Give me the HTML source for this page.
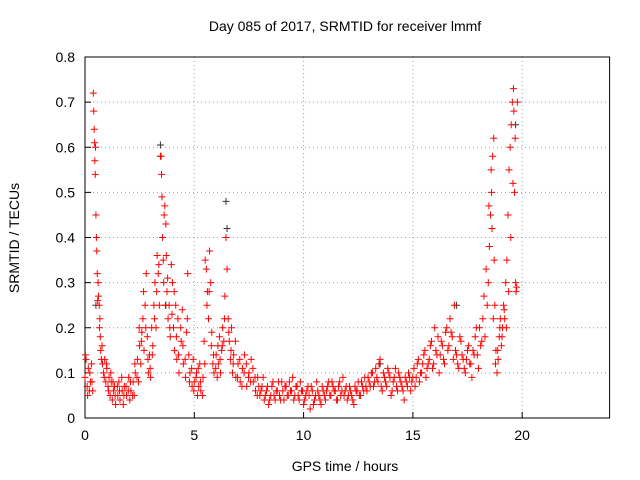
<!DOCTYPE html>
<html><head><meta charset="utf-8"><style>
body{margin:0;background:#fff}
svg{display:block;font-family:"Liberation Sans",sans-serif}
</style></head><body>
<svg id="chart" width="640" height="480" viewBox="0 0 640 480">
<text x="345" y="31" font-size="14" text-anchor="middle">Day 085 of 2017, SRMTID for receiver lmmf</text>
<text x="345" y="471" font-size="14" text-anchor="middle">GPS time / hours</text>
<text transform="translate(19,238) rotate(-90)" font-size="14" text-anchor="middle">SRMTID / TECUs</text>
<g id="grid"></g>
<g id="axes"></g>
<g id="marks"></g>
</svg>
<script>
const xTicks=[0,5,10,15,20];
const yTicks=[0,0.1,0.2,0.3,0.4,0.5,0.6,0.7,0.8];
const yTickLabels=["0","0.1","0.2","0.3","0.4","0.5","0.6","0.7","0.8"];
const redTimes=[0.0,0.05,0.1,0.15,0.2,0.25,0.3,0.35,0.38,0.4,0.42,0.44,0.45,0.47,0.5,0.52,0.54,0.56,0.6,0.62,0.65,0.68,0.7,0.72,0.75,0.8,0.85,0.9,0.95,1.0,1.05,1.1,1.15,1.2,1.25,1.3,1.35,1.4,1.5,1.55,1.6,1.7,1.75,1.8,1.9,2.0,2.05,2.1,2.2,2.25,2.3,2.4,2.45,2.5,2.55,2.6,2.65,2.7,2.75,2.8,2.85,2.9,2.95,3.0,3.05,3.1,3.15,3.2,3.25,3.3,3.35,3.4,3.45,3.48,3.5,3.52,3.55,3.6,3.62,3.65,3.7,3.72,3.75,3.8,3.85,3.9,3.95,4.0,4.05,4.1,4.15,4.2,4.25,4.3,4.4,4.45,4.5,4.6,4.65,4.7,4.75,4.8,4.9,4.95,5.0,5.1,5.15,5.2,5.25,5.3,5.4,5.45,5.5,5.55,5.6,5.65,5.7,5.75,5.8,5.85,5.9,6.0,6.05,6.1,6.15,6.2,6.25,6.3,6.35,6.4,6.45,6.5,6.55,6.6,6.65,6.7,6.75,6.8,6.9,7.0,7.1,7.2,7.3,7.4,7.5,7.6,7.7,7.8,7.9,8.0,8.1,8.2,8.3,8.4,8.5,8.6,8.7,8.8,8.9,9.0,9.1,9.2,9.3,9.4,9.5,9.6,9.7,9.8,9.9,10.0,10.1,10.2,10.3,10.4,10.5,10.6,10.7,10.8,10.9,11.0,11.1,11.2,11.3,11.4,11.5,11.6,11.7,11.8,11.9,12.0,12.1,12.2,12.3,12.4,12.5,12.6,12.7,12.8,12.9,13.0,13.1,13.2,13.3,13.4,13.5,13.6,13.7,13.8,13.9,14.0,14.1,14.2,14.3,14.4,14.5,14.6,14.7,14.8,14.9,15.0,15.1,15.2,15.3,15.4,15.5,15.6,15.7,15.8,15.9,16.0,16.1,16.2,16.3,16.4,16.5,16.6,16.7,16.8,16.9,17.0,17.1,17.2,17.3,17.4,17.5,17.6,17.7,17.8,17.9,18.0,18.1,18.2,18.3,18.4,18.45,18.5,18.55,18.6,18.62,18.65,18.7,18.72,18.75,18.8,18.85,18.9,18.95,19.0,19.05,19.1,19.15,19.2,19.25,19.3,19.35,19.4,19.45,19.5,19.55,19.6,19.62,19.65,19.7,19.72,19.75];
const redValues=[0.09,0.13,0.07,0.11,0.06,0.08,0.12,0.06,0.72,0.68,0.64,0.61,0.57,0.54,0.45,0.40,0.37,0.32,0.30,0.27,0.25,0.22,0.18,0.15,0.13,0.12,0.10,0.13,0.08,0.11,0.07,0.09,0.05,0.08,0.04,0.06,0.07,0.03,0.05,0.08,0.04,0.06,0.03,0.07,0.05,0.09,0.04,0.06,0.08,0.05,0.10,0.13,0.08,0.16,0.12,0.19,0.22,0.15,0.25,0.32,0.18,0.10,0.14,0.09,0.20,0.16,0.25,0.30,0.20,0.36,0.32,0.25,0.58,0.58,0.54,0.49,0.40,0.30,0.45,0.47,0.43,0.36,0.28,0.22,0.25,0.18,0.34,0.30,0.20,0.15,0.25,0.13,0.22,0.10,0.17,0.24,0.12,0.09,0.19,0.32,0.14,0.10,0.07,0.13,0.08,0.10,0.05,0.07,0.12,0.06,0.09,0.17,0.35,0.33,0.28,0.22,0.37,0.30,0.19,0.12,0.10,0.14,0.09,0.12,0.18,0.10,0.15,0.20,0.17,0.27,0.40,0.33,0.22,0.17,0.13,0.20,0.10,0.14,0.09,0.12,0.08,0.11,0.14,0.07,0.10,0.13,0.08,0.06,0.09,0.05,0.07,0.04,0.06,0.03,0.05,0.08,0.04,0.06,0.05,0.08,0.04,0.07,0.05,0.06,0.09,0.05,0.07,0.04,0.06,0.03,0.05,0.07,0.02,0.06,0.04,0.08,0.05,0.03,0.06,0.04,0.07,0.05,0.08,0.06,0.04,0.07,0.05,0.09,0.06,0.04,0.07,0.05,0.03,0.06,0.08,0.05,0.07,0.09,0.06,0.08,0.10,0.07,0.11,0.08,0.13,0.06,0.09,0.07,0.10,0.05,0.08,0.11,0.06,0.09,0.07,0.04,0.08,0.10,0.06,0.09,0.07,0.12,0.08,0.10,0.14,0.09,0.12,0.16,0.11,0.20,0.14,0.10,0.17,0.13,0.19,0.15,0.22,0.18,0.25,0.14,0.11,0.17,0.13,0.10,0.15,0.12,0.09,0.14,0.20,0.11,0.16,0.22,0.18,0.25,0.30,0.38,0.45,0.50,0.42,0.58,0.62,0.35,0.25,0.15,0.10,0.13,0.18,0.22,0.16,0.20,0.25,0.22,0.30,0.35,0.45,0.55,0.60,0.65,0.70,0.73,0.68,0.50,0.30,0.28,0.29];
const extraTimes=[0.02,0.12,0.22,0.32,0.48,0.58,0.66,0.78,0.88,0.98,1.08,1.18,1.28,1.38,1.48,1.58,1.68,1.78,1.88,1.98,2.08,2.18,2.28,2.38,2.48,2.58,2.68,2.78,2.88,2.98,3.08,3.18,3.28,3.38,3.58,3.68,3.78,3.88,3.98,4.08,4.18,4.28,4.38,4.48,4.58,4.68,4.78,4.88,4.98,5.08,5.18,5.28,5.38,5.48,5.58,5.68,5.78,5.88,5.98,6.08,6.18,6.28,6.38,6.58,6.68,6.78,6.88,6.98,7.08,7.18,7.28,7.38,7.48,7.58,7.68,7.78,7.88,7.95,8.05,8.15,8.25,8.35,8.45,8.55,8.65,8.75,8.85,8.95,9.05,9.15,9.25,9.35,9.45,9.55,9.65,9.75,9.85,9.95,10.05,10.15,10.25,10.35,10.45,10.55,10.65,10.75,10.85,10.95,11.05,11.15,11.25,11.35,11.45,11.55,11.65,11.75,11.85,11.95,12.05,12.15,12.25,12.35,12.45,12.55,12.65,12.75,12.85,12.95,13.05,13.15,13.25,13.35,13.45,13.55,13.65,13.75,13.85,13.95,14.05,14.15,14.25,14.35,14.45,14.55,14.65,14.75,14.85,14.95,15.05,15.15,15.25,15.35,15.45,15.55,15.65,15.75,15.85,15.95,16.05,16.15,16.25,16.35,16.45,16.55,16.65,16.75,16.85,16.95,17.05,17.15,17.25,17.35,17.45,17.55,17.65,17.75,17.85,17.95,18.05,18.15,18.25,18.35,18.48,18.58,18.68,18.78,18.88,18.98,19.08,19.18,19.28,19.38,19.48,19.58,19.68,19.78];
const extraValues=[0.14,0.05,0.10,0.08,0.60,0.26,0.20,0.16,0.09,0.12,0.06,0.10,0.08,0.05,0.07,0.06,0.09,0.05,0.07,0.06,0.08,0.05,0.12,0.09,0.20,0.17,0.28,0.20,0.13,0.11,0.14,0.22,0.28,0.34,0.35,0.25,0.31,0.20,0.23,0.28,0.18,0.14,0.20,0.16,0.13,0.22,0.08,0.11,0.06,0.09,0.11,0.08,0.05,0.12,0.25,0.28,0.16,0.14,0.11,0.16,0.13,0.16,0.22,0.19,0.15,0.12,0.17,0.09,0.13,0.07,0.10,0.12,0.09,0.08,0.11,0.09,0.05,0.07,0.06,0.09,0.05,0.07,0.04,0.07,0.05,0.06,0.08,0.04,0.06,0.07,0.05,0.08,0.06,0.04,0.07,0.05,0.08,0.06,0.04,0.06,0.05,0.07,0.03,0.05,0.06,0.04,0.07,0.05,0.06,0.08,0.05,0.07,0.06,0.04,0.08,0.06,0.05,0.07,0.05,0.06,0.04,0.07,0.06,0.05,0.08,0.06,0.07,0.09,0.07,0.10,0.08,0.09,0.12,0.07,0.10,0.08,0.11,0.09,0.06,0.09,0.07,0.10,0.08,0.06,0.09,0.07,0.09,0.08,0.11,0.09,0.13,0.10,0.12,0.15,0.11,0.13,0.17,0.12,0.15,0.18,0.14,0.16,0.12,0.20,0.16,0.19,0.13,0.15,0.12,0.18,0.14,0.11,0.13,0.16,0.12,0.15,0.18,0.14,0.20,0.17,0.27,0.33,0.47,0.55,0.22,0.12,0.15,0.20,0.18,0.24,0.20,0.28,0.40,0.52,0.62,0.70,0.55,0.31];
const blackTimes=[0.5,3.45,3.7,6.45,6.5,13.5,17.0,19.7];
const blackValues=[0.25,0.605,0.25,0.48,0.42,0.12,0.25,0.65];
const X0=85,X1=609.6,Y0=418,Y1=57,XMAX=24,YMAX=0.8;
const sx=t=>X0+(X1-X0)*t/XMAX;
const sy=v=>Y0-(Y0-Y1)*v/YMAX;
const NS="http://www.w3.org/2000/svg";
const grid=document.getElementById('grid'),axes=document.getElementById('axes'),marks=document.getElementById('marks');
function mk(tag,attrs,parent){const e=document.createElementNS(NS,tag);for(const k in attrs)e.setAttribute(k,attrs[k]);parent.appendChild(e);return e;}
xTicks.forEach(t=>{
  if(t>0){const g=mk('line',{x1:sx(t),x2:sx(t),y1:Y0,y2:Y1,stroke:'#a0a0a0','stroke-dasharray':'1,3'},grid);
  
  }
  const l=mk('line',{x1:sx(t),x2:sx(t),y1:Y0,y2:Y0-6,stroke:'#000'},axes);
  
  
  const tx=mk('text',{x:sx(t),y:Y0+22,'font-size':14,'text-anchor':'middle'},axes);tx.textContent=String(t);
  
  
});
yTicks.forEach((v,i)=>{
  if(v>0&&v<YMAX){const g=mk('line',{x1:X0,x2:X1,y1:sy(v),y2:sy(v),stroke:'#a0a0a0','stroke-dasharray':'1,3'},grid);
  
  }
  const l=mk('line',{x1:X0,x2:X0+6,y1:sy(v),y2:sy(v),stroke:'#000'},axes);
  
  
  const tx=mk('text',{x:X0-10,y:sy(v)+5,'font-size':14,'text-anchor':'end'},axes);tx.textContent=yTickLabels[i];
  
  
});
const fr=mk('rect',{x:X0,y:Y1,width:X1-X0,height:Y0-Y1,fill:'none',stroke:'#000'},axes);


function cross(t,v,color){
  const x=sx(t),y=sy(v);
  return mk('path',{d:`M${x-3.5},${y}h7M${x},${y-3.5}v7`,stroke:color,'stroke-width':1,fill:'none'},marks);
}
blackTimes.forEach((t,i)=>{const p=cross(t,blackValues[i],'#333');
  
  });
redTimes.forEach((t,i)=>{const p=cross(t,redValues[i],'#f00');
  
  });
extraTimes.forEach((t,i)=>{const p=cross(t,extraValues[i],'#f00');
  
  });
</script>
</body></html>
